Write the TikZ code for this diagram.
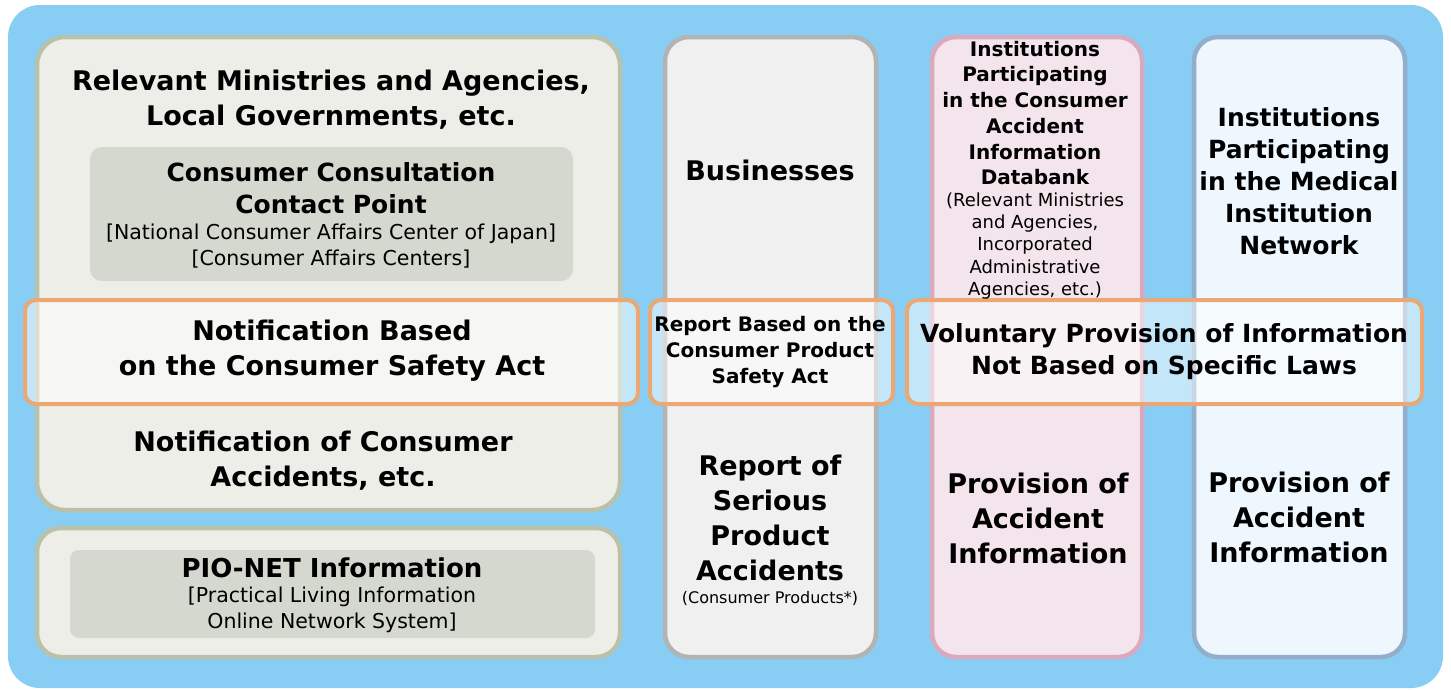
\documentclass[tikz,border=0pt]{standalone}
\usepackage{fontspec}
\setmainfont{DejaVu Sans}
\definecolor{bgblue}{HTML}{88CEF4}
\definecolor{leftfill}{HTML}{EEEEE8}
\definecolor{leftline}{HTML}{B9C1AA}
\definecolor{innergray}{HTML}{D5D8CF}
\definecolor{busfill}{HTML}{EFF0EF}
\definecolor{busline}{HTML}{B3B3B3}
\definecolor{dbfill}{HTML}{F4E5EC}
\definecolor{dbline}{HTML}{D9A9BF}
\definecolor{medfill}{HTML}{EEF7FD}
\definecolor{medline}{HTML}{93ADCC}
\definecolor{orangeline}{HTML}{EBA874}
\tikzset{
  bigtxt/.style={font=\bfseries\fontsize{27}{35}\selectfont, align=center, inner sep=0pt},
  midtxt/.style={font=\bfseries\fontsize{25}{32}\selectfont, align=center, inner sep=0pt},
  smbold/.style={font=\bfseries\fontsize{20}{25.7}\selectfont, align=center, inner sep=0pt},
  regtxt/.style={font=\fontsize{20.5}{25.5}\selectfont, align=center, inner sep=0pt},
  dbreg/.style={font=\fontsize{18}{22.3}\selectfont, align=center, inner sep=0pt},
  tinytxt/.style={font=\fontsize{16}{18}\selectfont, align=center, inner sep=0pt},
  panel/.style={line width=4.5pt, rounded corners=28pt},
  innerbox/.style={fill=innergray, rounded corners=12pt},
  band/.style={line width=4pt, draw=orangeline, fill=white, fill opacity=0.5, rounded corners=11pt},
}
\begin{document}
\begin{tikzpicture}[x=1pt,y=-1pt]
\useasboundingbox (0,0) rectangle (1451,689);
\fill[white] (0,0) rectangle (1451,689);
\fill[bgblue, rounded corners=32pt] (8,5) rectangle (1443,688);
% left panels
\path[panel, fill=leftfill, draw=leftline] (37,37) rectangle (620,510);
\path[innerbox] (90,147) rectangle (573,281);
\path[panel, rounded corners=24pt, fill=leftfill, draw=leftline] (37,528) rectangle (620,657);
\path[innerbox, rounded corners=9pt] (70,550) rectangle (595,638);
% columns
\path[panel, rounded corners=24pt, fill=busfill, draw=busline] (665,37) rectangle (876,657);
\path[panel, rounded corners=24pt, fill=dbfill, draw=dbline] (932,37) rectangle (1142,657);
\path[panel, rounded corners=24pt, fill=medfill, draw=medline] (1194,37) rectangle (1405,657);
% bands
\path[band] (25,300) rectangle (638,404);
\path[band] (650,300) rectangle (893,404);
\path[band] (907,300) rectangle (1422,404);
% texts
\node[bigtxt] (rel) at (331,100) {Relevant Ministries and Agencies,\\Local Governments, etc.};
\node[midtxt] (ccpA) at (331,188) {Consumer Consultation\\Contact Point};
\node[regtxt] (ccpB) at (331,246) {[National Consumer Affairs Center of Japan]\\[0pt] [Consumer Affairs Centers]};
\node[midtxt, font=\bfseries\fontsize{26}{32}\selectfont] (pioA) at (332,568) {PIO-NET Information};
\node[regtxt] (pioB) at (332,610) {[Practical Living Information\\Online Network System]};
\node[bigtxt] (notifA) at (332,351) {Notification Based\\on the Consumer Safety Act};
\node[bigtxt] (notifB) at (323,461) {Notification of Consumer\\Accidents, etc.};
\node[bigtxt] (bus) at (770,170) {Businesses};
\node[smbold] (rbA) at (770,352) {Report Based on the\\Consumer Product\\Safety Act};
\node[bigtxt] (rsA) at (770,518) {Report of\\Serious\\Product\\Accidents};
\node[tinytxt] (rsB) at (770,598) {(Consumer Products*)};
\node[smbold] (dbA) at (1035,113) {Institutions\\Participating\\in the Consumer\\Accident\\Information\\Databank};
\node[dbreg] (dbB) at (1035,246) {(Relevant Ministries\\and Agencies,\\Incorporated\\Administrative\\Agencies, etc.)};
\node[midtxt] (med) at (1299,181) {Institutions\\Participating\\in the Medical\\Institution\\Network};
\node[midtxt] (vol) at (1164,352) {Voluntary Provision of Information\\Not Based on Specific Laws};
\node[bigtxt] (prov1) at (1038,518) {Provision of\\Accident\\Information};
\node[bigtxt] (prov2) at (1299,517) {Provision of\\Accident\\Information};
\end{tikzpicture}
\end{document}
